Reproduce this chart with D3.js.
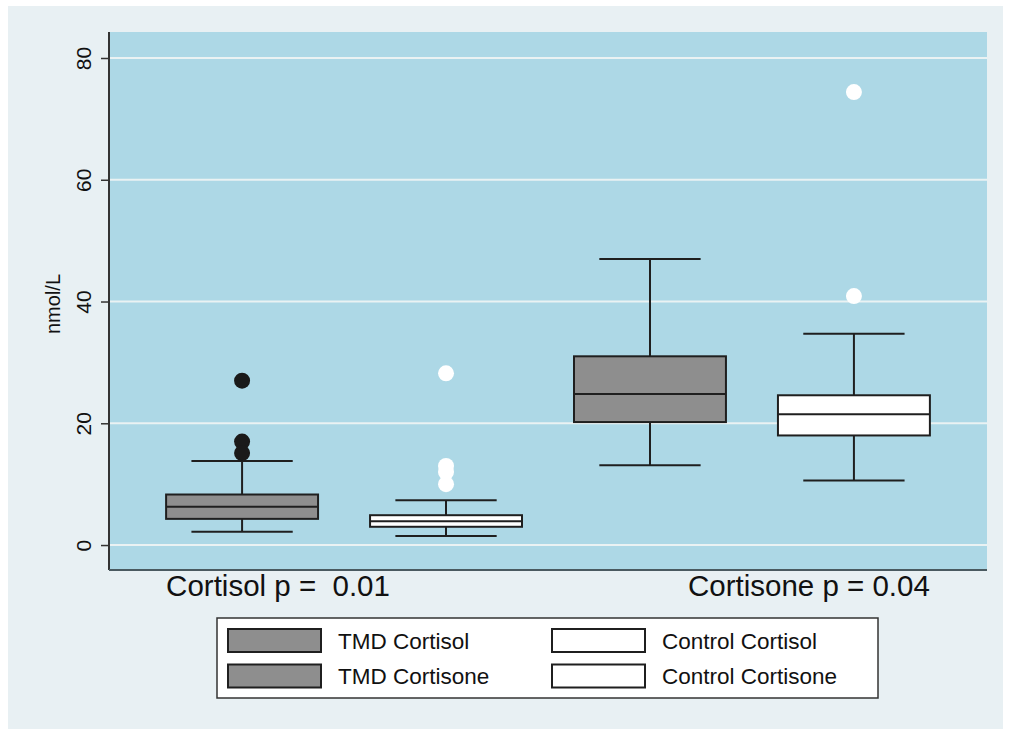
<!DOCTYPE html>
<html>
<head>
<meta charset="utf-8">
<script src="https://cdn.jsdelivr.net/npm/d3@7"></script>
<style>
  html, body { margin: 0; padding: 0; background: #ffffff; }
  svg { display: block; }
  text { font-family: "Liberation Sans", Arial, Helvetica, sans-serif; }
</style>
</head>
<body>
<svg id="chart" width="1010" height="731"></svg>
<script>
// ---- data ----
const groups = ["TMD Cortisol", "Control Cortisol", "TMD Cortisone", "Control Cortisone"];
const whiskerLow  = [2.2, 1.5, 13.1, 10.6];
const q1          = [4.3, 3.0, 20.2, 18.0];
const median      = [6.3, 3.9, 24.8, 21.5];
const q3          = [8.3, 4.9, 31.0, 24.6];
const whiskerHigh = [13.8, 7.35, 47.0, 34.7];
const outliers    = [[27.0, 17.0, 15.1], [28.2, 13.0, 12.0, 10.0], [], [74.4, 40.9]];
const yTicks = [0, 20, 40, 60, 80];
const yTitle = "nmol/L";
const groupLabels = ["Cortisol p =  0.01", "Cortisone p = 0.04"];
const legendOrder = ["TMD Cortisol", "TMD Cortisone", "Control Cortisol", "Control Cortisone"];

// ---- styles ----
const boxFill = { "TMD Cortisol": "#8e8e8e", "TMD Cortisone": "#8e8e8e", "Control Cortisol": "#ffffff", "Control Cortisone": "#ffffff" };
const dotFill = { "TMD Cortisol": "#1a1a1a", "TMD Cortisone": "#1a1a1a", "Control Cortisol": "#ffffff", "Control Cortisone": "#ffffff" };
const ink = "#1f1f1f";

const svg = d3.select("#chart");

// outer background
svg.append("rect").attr("x", 8).attr("y", 6).attr("width", 995).attr("height", 723).attr("fill", "#e8f0f3");

const plot = { left: 109, right: 987, top: 32, bottom: 570 };

// plot region
svg.append("rect")
  .attr("x", plot.left).attr("y", plot.top)
  .attr("width", plot.right - plot.left).attr("height", plot.bottom - plot.top)
  .attr("fill", "#add8e6");

const y = d3.scaleLinear().domain([-4.1, 84.27]).range([plot.bottom, plot.top]);
const x = d3.scaleBand().domain(groups).range([plot.left, plot.right]).paddingInner(0.255).paddingOuter(0.28);
const bw = x.bandwidth();

// grid
svg.append("g").selectAll("line").data(yTicks).join("line")
  .attr("x1", plot.left).attr("x2", plot.right)
  .attr("y1", d => y(d)).attr("y2", d => y(d))
  .attr("stroke", "#eaf2f3").attr("stroke-width", 2);

// y axis
const yAxis = d3.axisLeft(y).tickValues(yTicks).tickSize(8).tickPadding(0).tickFormat(d3.format("d"));
const gy = svg.append("g").attr("transform", `translate(${plot.left},0)`).call(yAxis);
gy.select(".domain").remove();
gy.selectAll(".tick line").attr("stroke", "#333").attr("stroke-width", 1.5);
gy.selectAll(".tick text")
  .attr("transform", "rotate(-90)")
  .attr("x", 0).attr("y", -18)
  .attr("dy", 0)
  .attr("text-anchor", "middle")
  .attr("fill", "#111")
  .style("font-size", "21px");

// axis lines
svg.append("line").attr("x1", plot.left).attr("x2", plot.left).attr("y1", plot.top).attr("y2", plot.bottom)
  .attr("stroke", "#333").attr("stroke-width", 2);
svg.append("line").attr("x1", plot.left).attr("x2", plot.right).attr("y1", plot.bottom).attr("y2", plot.bottom)
  .attr("stroke", "#4a5a60").attr("stroke-width", 2);

// y title
svg.append("text")
  .attr("transform", `translate(60,${(plot.top + plot.bottom) / 2 + 3}) rotate(-90)`)
  .attr("text-anchor", "middle")
  .attr("fill", "#111")
  .style("font-size", "20px")
  .text(yTitle);

// boxes
const gBox = svg.append("g").selectAll("g").data(groups).join("g");
gBox.each(function(g, i) {
  const sel = d3.select(this);
  const cx = x(g) + bw / 2;
  const capHalf = bw / 3;
  sel.append("line").attr("x1", cx).attr("x2", cx).attr("y1", y(q3[i])).attr("y2", y(whiskerHigh[i]))
    .attr("stroke", ink).attr("stroke-width", 2);
  sel.append("line").attr("x1", cx).attr("x2", cx).attr("y1", y(q1[i])).attr("y2", y(whiskerLow[i]))
    .attr("stroke", ink).attr("stroke-width", 2);
  sel.append("line").attr("x1", cx - capHalf).attr("x2", cx + capHalf).attr("y1", y(whiskerHigh[i])).attr("y2", y(whiskerHigh[i]))
    .attr("stroke", ink).attr("stroke-width", 2);
  sel.append("line").attr("x1", cx - capHalf).attr("x2", cx + capHalf).attr("y1", y(whiskerLow[i])).attr("y2", y(whiskerLow[i]))
    .attr("stroke", ink).attr("stroke-width", 2);
  sel.append("rect").attr("x", x(g)).attr("width", bw)
    .attr("y", y(q3[i])).attr("height", y(q1[i]) - y(q3[i]))
    .attr("fill", boxFill[g]).attr("stroke", ink).attr("stroke-width", 2);
  sel.append("line").attr("x1", x(g)).attr("x2", x(g) + bw).attr("y1", y(median[i])).attr("y2", y(median[i]))
    .attr("stroke", ink).attr("stroke-width", 2);
  sel.selectAll("circle").data(outliers[i]).join("circle")
    .attr("cx", cx).attr("cy", d => y(d)).attr("r", 8)
    .attr("fill", dotFill[g]);
});

// group labels (under the x axis)
svg.append("text")
  .attr("x", x(groups[0])).attr("y", 596)
  .attr("text-anchor", "start").attr("fill", "#111")
  .style("font-size", "29.5px").style("white-space", "pre")
  .text(groupLabels[0]);
svg.append("text")
  .attr("x", x(groups[3]) + bw).attr("y", 596)
  .attr("text-anchor", "end").attr("fill", "#111")
  .style("font-size", "29.5px").style("white-space", "pre")
  .text(groupLabels[1]);

// legend
const legend = svg.append("g");
legend.append("rect").attr("x", 217).attr("y", 618).attr("width", 661).attr("height", 80)
  .attr("fill", "#ffffff").attr("stroke", "#333").attr("stroke-width", 1.5);
const colX = [228, 552];
const rowY = [629, 664.5];
const items = legend.selectAll("g.item").data(legendOrder).join("g").attr("class", "item")
  .attr("transform", (d, i) => `translate(${colX[Math.floor(i / 2)]},${rowY[i % 2]})`);
items.append("rect").attr("width", 93).attr("height", 23)
  .attr("fill", d => boxFill[d]).attr("stroke", ink).attr("stroke-width", 2);
items.append("text").attr("x", 110).attr("y", 12).attr("dy", "0.35em")
  .attr("fill", "#111").style("font-size", "22.5px")
  .text(d => d);
</script>
</body>
</html>
